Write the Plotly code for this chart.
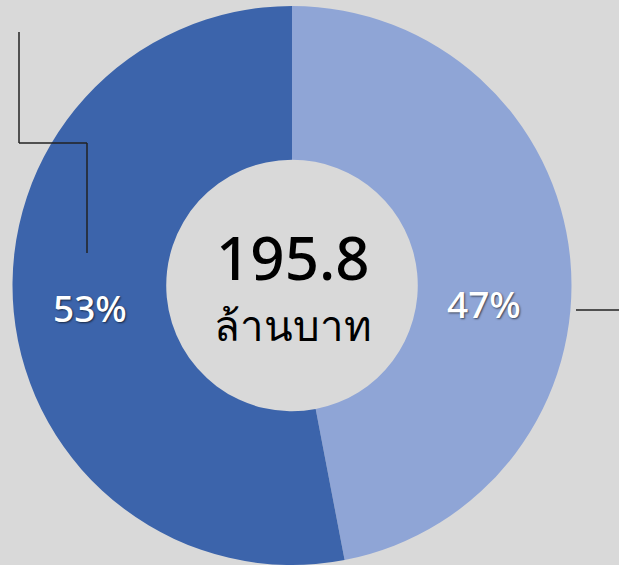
import plotly.graph_objects as go

labels = ["ส่วนที่ 1", "ส่วนที่ 2"]
values = [92.0, 103.8]          # million baht (47% / 53%)
colors = ["#8fa5d6", "#3c64ab"]
total_text = "195.8"
unit_text = "ล้านบาท"
top_label = "103.8 ล้านบาท"

W, H = 619, 565
total = sum(values)
pcts = [f"{round(v / total * 100)}%" for v in values]

fig = go.Figure()
fig.add_trace(go.Pie(
    labels=labels, values=values, hole=0.45, sort=False, direction="clockwise",
    rotation=0, marker=dict(colors=colors, line=dict(width=0)),
    textinfo="none", hoverinfo="label+value+percent", showlegend=False,
    domain=dict(x=[12 / W, 572 / W], y=[0, (H - 6) / H]),
))

def px(x, y):
    return x / W, 1 - y / H

FONT = "Noto Sans, DejaVu Sans, sans-serif"
annos = []
# center text
for txt, y, size in [(total_text, 257, 60), (unit_text, 324, 42)]:
    ax, ay = px(293, y)
    annos.append(dict(x=ax, y=ay, xref="paper", yref="paper", text=txt, showarrow=False,
                      font=dict(size=size, color="#000000", family=FONT, weight=500),
                      xanchor="center", yanchor="middle"))
# percentage labels
for txt, (x, y) in zip(pcts, [(484, 303), (90, 307)]):
    ax, ay = px(x, y)
    annos.append(dict(x=ax, y=ay, xref="paper", yref="paper", text=txt, showarrow=False,
                      font=dict(size=37, color="#ffffff", family=FONT, weight=500,
                                shadow="1px 1px 2px rgba(0,0,0,0.6)"),
                      xanchor="center", yanchor="middle"))
# cut-off top label
ax, ay = px(0, 2)
annos.append(dict(x=ax, y=ay, xref="paper", yref="paper", text=top_label, showarrow=False,
                  font=dict(size=40, color="#000000", family=FONT),
                  xanchor="left", yanchor="bottom"))

shapes = []
line_style = dict(color="#222222", width=1.5)
for (x0, y0, x1, y1) in [(19, 32, 19, 143), (19, 143, 87, 143), (87, 143, 87, 253), (576, 310, 619, 310)]:
    a0, b0 = px(x0, y0)
    a1, b1 = px(x1, y1)
    shapes.append(dict(type="line", xref="paper", yref="paper", x0=a0, y0=b0, x1=a1, y1=b1, line=line_style))

fig.update_layout(
    width=W, height=H, margin=dict(l=0, r=0, t=0, b=0),
    paper_bgcolor="#d9d9d9", plot_bgcolor="#d9d9d9",
    annotations=annos, shapes=shapes,
)
fig.write_html("out.html", config={"displayModeBar": False},
               post_script="document.body.style.margin='0';document.body.style.overflow='hidden';")
